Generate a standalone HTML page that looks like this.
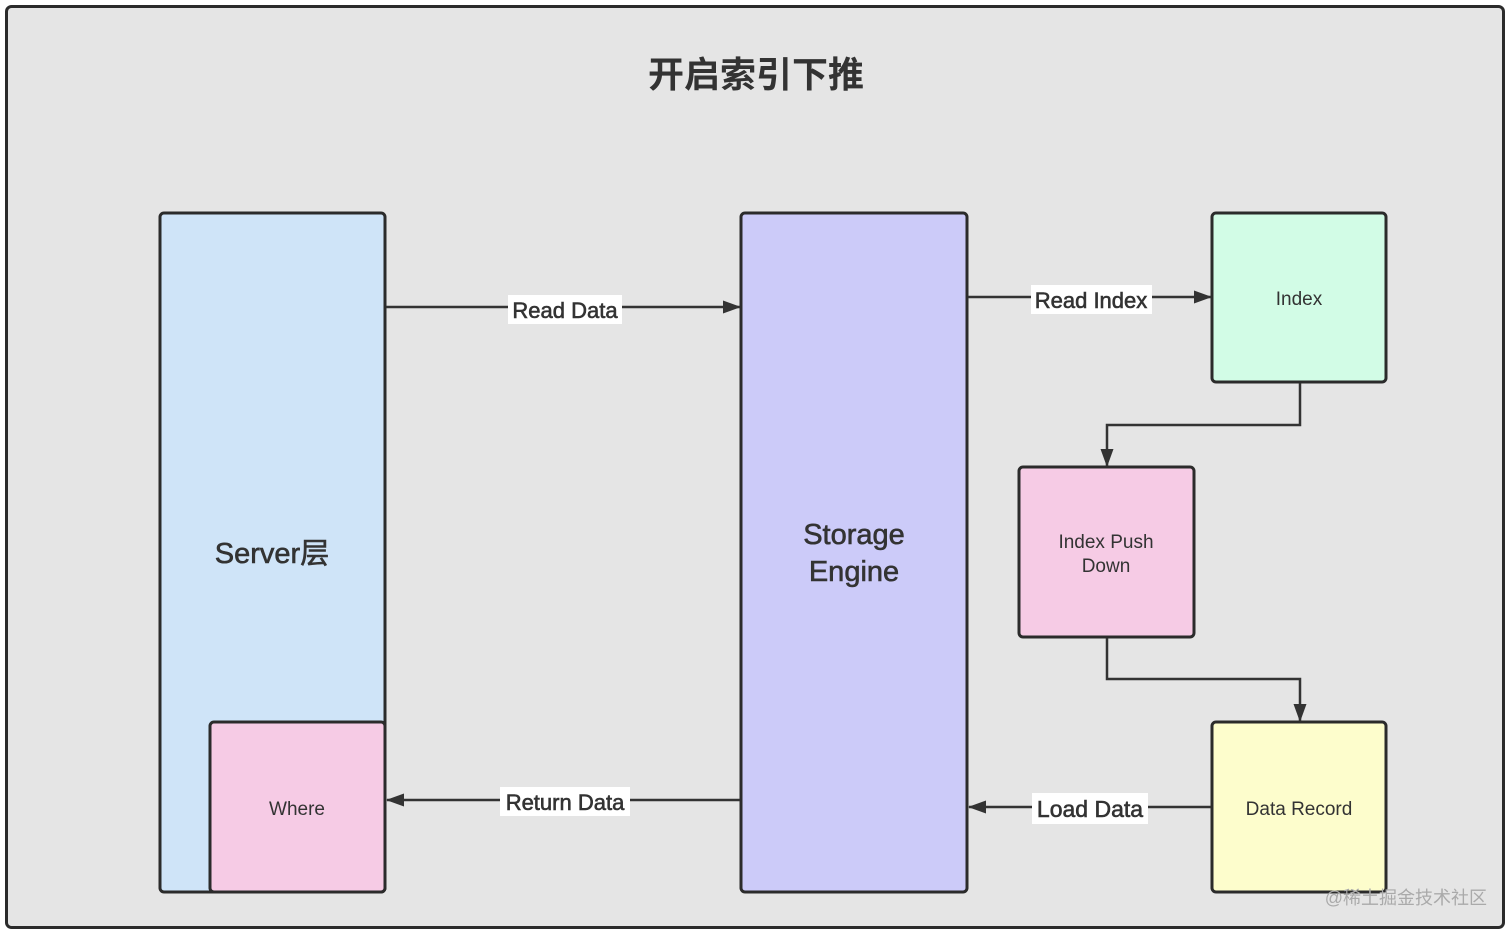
<!DOCTYPE html>
<html><head><meta charset="utf-8"><style>
html,body{margin:0;padding:0;background:#fff;}
svg{display:block;}
text{font-family:"Liberation Sans","Noto Sans CJK SC",sans-serif;fill:#333;}
.lb{stroke:#333;stroke-width:0.6;}
</style></head><body>
<svg width="1512" height="933" viewBox="0 0 1512 933" xmlns="http://www.w3.org/2000/svg">
<defs>
<marker id="ah" markerWidth="18" markerHeight="14" refX="17" refY="7" orient="auto" markerUnits="userSpaceOnUse" viewBox="0 0 18 14">
<path d="M0,0.5 L18,7 L0,13.5 Z" fill="#333"/>
</marker>
</defs>
<rect x="6.5" y="6.5" width="1497" height="921" rx="5" fill="#e5e5e5" stroke="#2b2b2b" stroke-width="3"/>
<text x="756" y="87" text-anchor="middle" font-size="36" font-weight="bold">开启索引下推</text>

<rect x="160" y="213" width="225" height="679" rx="4" fill="#cfe4f8" stroke="#2b2b2b" stroke-width="3"/>
<text x="272" y="563" text-anchor="middle" font-size="29" class="lb">Server层</text>
<rect x="210" y="722" width="175" height="170" rx="4" fill="#f6cbe5" stroke="#2b2b2b" stroke-width="3"/>
<text x="297" y="815" text-anchor="middle" font-size="19">Where</text>

<rect x="741" y="213" width="226" height="679" rx="4" fill="#cccbf9" stroke="#2b2b2b" stroke-width="3"/>
<text x="854" y="544" text-anchor="middle" font-size="29" class="lb">Storage</text>
<text x="854" y="581" text-anchor="middle" font-size="29" class="lb">Engine</text>

<rect x="1212" y="213" width="174" height="169" rx="4" fill="#d2fce6" stroke="#2b2b2b" stroke-width="3"/>
<text x="1299" y="305" text-anchor="middle" font-size="19">Index</text>
<rect x="1019" y="467" width="175" height="170" rx="4" fill="#f6cbe5" stroke="#2b2b2b" stroke-width="3"/>
<text x="1106" y="548" text-anchor="middle" font-size="19">Index Push</text>
<text x="1106" y="572" text-anchor="middle" font-size="19">Down</text>
<rect x="1212" y="722" width="174" height="170" rx="4" fill="#fdfdcc" stroke="#2b2b2b" stroke-width="3"/>
<text x="1299" y="815" text-anchor="middle" font-size="19">Data Record</text>

<g stroke="#333" stroke-width="2.5" fill="none">
<path d="M386 307 H740" marker-end="url(#ah)"/>
<path d="M968 297 H1211" marker-end="url(#ah)"/>
<path d="M1300 383 V425 H1107 V466" marker-end="url(#ah)"/>
<path d="M1107 638 V679 H1300 V721" marker-end="url(#ah)"/>
<path d="M1211 807 H969" marker-end="url(#ah)"/>
<path d="M740 800 H387" marker-end="url(#ah)"/>
</g>

<rect x="508" y="295" width="114" height="29" fill="#fff"/>
<text x="565" y="318" text-anchor="middle" font-size="22" class="lb">Read Data</text>
<rect x="1031" y="285" width="121" height="29" fill="#fff"/>
<text x="1091" y="308" text-anchor="middle" font-size="22" class="lb">Read Index</text>
<rect x="1032" y="793" width="116" height="31" fill="#fff"/>
<text x="1090" y="817" text-anchor="middle" font-size="23" class="lb">Load Data</text>
<rect x="500" y="787" width="130" height="29" fill="#fff"/>
<text x="565" y="810" text-anchor="middle" font-size="22" class="lb">Return Data</text>

<text x="1487" y="904" text-anchor="end" font-size="18" style="fill:#aaa">@稀土掘金技术社区</text>
</svg>
</body></html>
